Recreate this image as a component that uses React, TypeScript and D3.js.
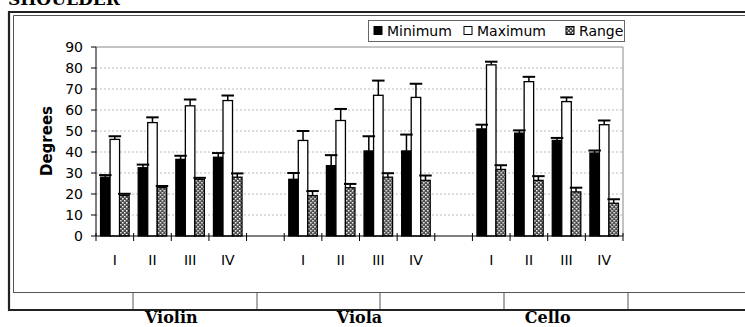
import * as d3 from 'd3';
import React, { useEffect, useRef } from 'react';

// instruments and string positions
const instruments = ['Violin', 'Viola', 'Cello'];
const positions = ['I', 'II', 'III', 'IV'];
const seriesNames = ['Minimum', 'Maximum', 'Range'];

// values in degrees, ordered Violin I..IV, Viola I..IV, Cello I..IV
const minimum = [28, 32.5, 36.5, 37.5, 27, 33.5, 40.5, 40.5, 51, 49, 45.5, 39.5];
const minimumErr = [1, 1.5, 1.7, 2, 3, 5, 7, 7.8, 2, 1.3, 1.2, 1.2];
const maximum = [46, 54, 62, 64.5, 45.5, 55, 67, 66, 81.5, 73.5, 64, 53];
const maximumErr = [1.5, 2.5, 3, 2.4, 4.5, 5.5, 7, 6.5, 1.5, 2.3, 2, 2];
const range = [19.3, 23, 27, 28, 19.2, 23, 28, 26.5, 31.7, 26.5, 21, 15.6];
const rangeErr = [0.8, 0.8, 0.7, 1.8, 2.2, 1.8, 1.9, 2.3, 2, 2, 2, 1.9];

const yTicks = [0, 10, 20, 30, 40, 50, 60, 70, 80, 90];

const Chart = () => {
    const ref = useRef(null);
    const width = 745;
    const height = 327;
    const plot = { left: 96, right: 623, top: 47, bottom: 236 };
    const font = 'DejaVu Sans, sans-serif';
    const serif = 'DejaVu Serif, serif';

    useEffect(() => {
        const svg = d3.select(ref.current);
        svg.selectAll('*').remove();

        // slots: 4 positions per instrument with an empty slot between groups
        const slots: string[] = [];
        instruments.forEach((inst, i) => {
            positions.forEach((p) => slots.push(inst + '-' + p));
            if (i < instruments.length - 1) slots.push('gap-' + i);
        });

        const rows = instruments.flatMap((inst, i) =>
            positions.map((p, j) => {
                const k = i * 4 + j;
                return {
                    key: inst + '-' + p,
                    label: p,
                    values: [
                        { s: 'Minimum', v: minimum[k], e: minimumErr[k] },
                        { s: 'Maximum', v: maximum[k], e: maximumErr[k] },
                        { s: 'Range', v: range[k], e: rangeErr[k] },
                    ],
                };
            })
        );

        const x = d3.scaleBand().domain(slots).range([plot.left, plot.right]).padding(0);
        const xs = d3.scaleBand().domain(seriesNames).range([0, x.bandwidth()])
            .paddingInner(0).paddingOuter(0.48);
        const y = d3.scaleLinear().domain([0, 90]).range([plot.bottom, plot.top]);

        // hatch pattern for the Range bars
        const defs = svg.append('defs');
        const pat = defs.append('pattern').attr('id', 'hatch')
            .attr('patternUnits', 'userSpaceOnUse').attr('width', 4).attr('height', 4);
        pat.append('rect').attr('width', 4).attr('height', 4).attr('fill', '#4a4a4a');
        pat.append('rect').attr('x', 0).attr('y', 0).attr('width', 1.5).attr('height', 1.5).attr('fill', '#fff');
        pat.append('rect').attr('x', 2).attr('y', 2).attr('width', 1.5).attr('height', 1.5).attr('fill', '#fff');

        const fills: Record<string, string> = { Minimum: '#000', Maximum: '#fff', Range: 'url(#hatch)' };

        // title, cut at the top of the page
        svg.append('text').attr('x', 8).attr('y', 5)
            .attr('font-family', serif).attr('font-weight', 'bold').attr('font-size', 17)
            .text('SHOULDER');

        // outer frame
        const frame = svg.append('g').attr('fill', 'none').attr('stroke', '#222');
        frame.append('path').attr('d', 'M760,310 H9 V12 H760').attr('stroke-width', 2.2);
        frame.append('path').attr('d', 'M13.5,293 V15.5 H760').attr('stroke-width', 1).attr('stroke', '#555');
        frame.append('line').attr('x1', 13).attr('x2', 760).attr('y1', 292.5).attr('y2', 292.5).attr('stroke', '#555');
        [133, 257, 380, 504, 628].forEach((sx) => {
            frame.append('line').attr('x1', sx).attr('x2', sx).attr('y1', 292).attr('y2', 309).attr('stroke', '#555');
        });

        // gridlines
        const g = svg.append('g');
        g.selectAll('.grid').data(yTicks.filter((t) => t > 0 && t < 90)).enter().append('line')
            .attr('x1', plot.left).attr('x2', plot.right)
            .attr('y1', (d) => y(d)).attr('y2', (d) => y(d))
            .attr('stroke', '#bbb').attr('stroke-dasharray', '2,2');

        // plot area border
        g.append('path').attr('d', `M${plot.left},${y(90)} H${plot.right} V${plot.bottom}`)
            .attr('fill', 'none').attr('stroke', '#888');

        // bars
        const groups = g.selectAll('.cat').data(rows).enter().append('g')
            .attr('transform', (d) => 'translate(' + x(d.key) + ',0)');

        groups.selectAll('rect').data((d) => d.values).enter().append('rect')
            .attr('x', (d) => xs(d.s) as number)
            .attr('width', xs.bandwidth())
            .attr('y', (d) => y(d.v))
            .attr('height', (d) => plot.bottom - y(d.v))
            .attr('fill', (d) => fills[d.s])
            .attr('stroke', '#000')
            .attr('stroke-width', 1.3);

        // error bars (upper only)
        groups.selectAll('.err').data((d) => d.values).enter().append('line')
            .attr('x1', (d) => (xs(d.s) as number) + xs.bandwidth() / 2)
            .attr('x2', (d) => (xs(d.s) as number) + xs.bandwidth() / 2)
            .attr('y1', (d) => y(d.v)).attr('y2', (d) => y(d.v + d.e))
            .attr('stroke', '#000').attr('stroke-width', 1.5);
        groups.selectAll('.cap').data((d) => d.values).enter().append('line')
            .attr('x1', (d) => (xs(d.s) as number) - 1.5)
            .attr('x2', (d) => (xs(d.s) as number) + xs.bandwidth() + 1.5)
            .attr('y1', (d) => y(d.v + d.e)).attr('y2', (d) => y(d.v + d.e))
            .attr('stroke', '#000').attr('stroke-width', 2);

        // category labels (grayscale antialiasing via opacity)
        g.append('g').attr('opacity', 0.999)
            .selectAll('.lab').data(rows).enter().append('text')
            .attr('x', (d) => (x(d.key) as number) + x.bandwidth() / 2)
            .attr('y', 265)
            .attr('text-anchor', 'middle')
            .attr('fill', '#000')
            .attr('font-family', font).attr('font-size', 14)
            .text((d) => d.label);

        // y axis
        const ya = g.append('g').attr('stroke', '#000');
        ya.append('line').attr('x1', plot.left).attr('x2', plot.left)
            .attr('y1', plot.top).attr('y2', plot.bottom);
        yTicks.forEach((t) => {
            ya.append('line').attr('x1', plot.left - 5).attr('x2', plot.left)
                .attr('y1', y(t)).attr('y2', y(t));
        });
        g.selectAll('.ytick').data(yTicks).enter().append('text')
            .attr('x', 83).attr('y', (d) => y(d) + 5)
            .attr('text-anchor', 'end')
            .attr('fill', '#000')
            .attr('font-family', font).attr('font-size', 14)
            .text((d) => d);

        // x axis and boundary ticks
        g.append('line').attr('x1', plot.left).attr('x2', plot.right)
            .attr('y1', plot.bottom).attr('y2', plot.bottom).attr('stroke', '#000');
        const bounds = slots.map((s) => x(s) as number).concat([x.range()[1]]);
        g.selectAll('.xtick').data(bounds).enter().append('line')
            .attr('x1', (d) => d).attr('x2', (d) => d)
            .attr('y1', plot.bottom - 3).attr('y2', plot.bottom + 5)
            .attr('stroke', '#000');

        // y axis title
        g.append('text')
            .attr('transform', 'translate(52,141) rotate(-90)')
            .attr('text-anchor', 'middle')
            .attr('fill', '#000')
            .attr('font-family', font).attr('font-weight', 'bold').attr('font-size', 15)
            .text('Degrees');

        // legend
        const lg = svg.append('g');
        lg.append('rect').attr('x', 368.5).attr('y', 20.5).attr('width', 256).attr('height', 21)
            .attr('fill', '#fff').attr('stroke', '#666');
        const legendX = [374, 464, 566];
        seriesNames.forEach((s, i) => {
            lg.append('rect').attr('x', legendX[i]).attr('y', 26.5).attr('width', 8).attr('height', 8)
                .attr('fill', fills[s]).attr('stroke', '#000');
            lg.append('text').attr('x', legendX[i] + 13).attr('y', 36)
                .attr('fill', '#000')
                .attr('font-family', font).attr('font-size', 14)
                .text(s);
        });

        // instrument labels under the frame
        svg.selectAll('.inst').data(instruments).enter().append('text')
            .attr('x', (d) => ((x(d + '-I') as number) + (x(d + '-IV') as number) + x.bandwidth()) / 2)
            .attr('y', 323)
            .attr('text-anchor', 'middle')
            .attr('fill', '#000')
            .attr('font-family', serif).attr('font-weight', 'bold').attr('font-size', 16)
            .text((d) => d);
    }, []);

    return (
        <svg ref={ref} width={width} height={height}
            style={{ position: 'absolute', left: 0, top: 0, background: '#fff' }}>
        </svg>
    );
};

export default function App() {
    return <Chart />;
}
